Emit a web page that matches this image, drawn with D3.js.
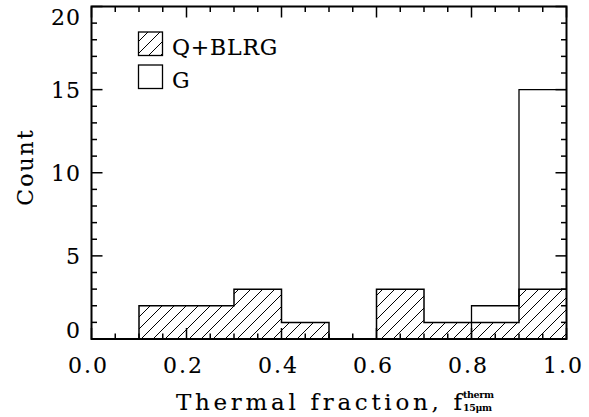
<!DOCTYPE html>
<html>
<head>
<meta charset="utf-8">
<script src="https://cdn.jsdelivr.net/npm/d3@7"></script>
<style>
  html, body { margin: 0; padding: 0; background: #fff; }
  svg { display: block; }
  text { font-family: "DejaVu Serif", "Liberation Serif", serif; fill: #000; }
</style>
</head>
<body>
<svg id="chart" width="589" height="417"></svg>
<script>
// Histogram bin edges (thermal fraction) and counts per bin
const binEdges = [0.0, 0.1, 0.2, 0.3, 0.4, 0.5, 0.6, 0.7, 0.8, 0.9, 1.0];
const countsQBLRG = [0, 2, 2, 3, 1, 0, 3, 1, 1, 3];
const countsG = [0, 0, 0, 0, 0, 0, 0, 0, 2, 15];

const xTickValues = [0.0, 0.2, 0.4, 0.6, 0.8, 1.0];
const yTickValues = [0, 5, 10, 15, 20];
const legendLabels = ["Q+BLRG", "G"];

const W = 589, H = 417;
const plot = { left: 91.5, right: 566.5, top: 6.5, bottom: 339 };

const svg = d3.select("#chart");
const x = d3.scaleLinear().domain([0, 1]).range([plot.left, plot.right]);
const y = d3.scaleLinear().domain([0, 20]).range([plot.bottom, plot.top]);

// Diagonal hatch pattern
const defs = svg.append("defs");
const pat = defs.append("pattern")
  .attr("id", "hatch")
  .attr("patternUnits", "userSpaceOnUse")
  .attr("width", 12).attr("height", 12);
pat.append("path")
  .attr("d", "M-3,3 L3,-3 M0,12 L12,0 M9,15 L15,9")
  .attr("stroke", "#000").attr("stroke-width", 1);

// Step points for each histogram (last count repeated at the final edge)
function stepPoints(counts) {
  return binEdges.map((e, i) => [e, counts[Math.min(i, counts.length - 1)]]);
}

const area = d3.area()
  .x(d => x(d[0]))
  .y0(y(0))
  .y1(d => y(d[1]))
  .curve(d3.curveStepAfter);
const line = d3.line()
  .x(d => x(d[0]))
  .y(d => y(d[1]))
  .curve(d3.curveStepAfter);

const qPts = stepPoints(countsQBLRG);
const gPts = stepPoints(countsG);

// Q+BLRG: hatched fill with step outline
svg.append("path").attr("d", area(qPts)).attr("fill", "url(#hatch)");
svg.append("path").attr("d", line(qPts))
  .attr("fill", "none").attr("stroke", "#000").attr("stroke-width", 1.5);

// G: step outline only
svg.append("path").attr("d", line(gPts))
  .attr("fill", "none").attr("stroke", "#000").attr("stroke-width", 1.3);

// Frame
svg.append("rect")
  .attr("x", plot.left).attr("y", plot.top)
  .attr("width", plot.right - plot.left).attr("height", plot.bottom - plot.top)
  .attr("fill", "none").attr("stroke", "#000").attr("stroke-width", 2);

// Ticks on all four sides
const tickG = svg.append("g").attr("stroke", "#000").attr("stroke-width", 1.5);
const xMinor = d3.range(0, 1.0001, 0.05);
xMinor.forEach(v => {
  const major = xTickValues.some(t => Math.abs(t - v) < 1e-6);
  const len = major ? 11 : 5.5;
  tickG.append("line").attr("x1", x(v)).attr("x2", x(v))
    .attr("y1", plot.bottom).attr("y2", plot.bottom - len);
  tickG.append("line").attr("x1", x(v)).attr("x2", x(v))
    .attr("y1", plot.top).attr("y2", plot.top + len);
});
d3.range(0, 21, 1).forEach(v => {
  const major = yTickValues.includes(v);
  const len = major ? 11 : 5.5;
  tickG.append("line").attr("y1", y(v)).attr("y2", y(v))
    .attr("x1", plot.left).attr("x2", plot.left + len);
  tickG.append("line").attr("y1", y(v)).attr("y2", y(v))
    .attr("x1", plot.right).attr("x2", plot.right - len);
});

// Tick labels
const labelStyle = sel => sel
  .attr("font-size", 22)
  .attr("stroke", "#000").attr("stroke-width", 0.1);

svg.append("g").selectAll("text").data(xTickValues).join("text")
  .attr("x", d => x(d) - 3)
  .attr("y", 373)
  .attr("text-anchor", "middle")
  .attr("letter-spacing", 2)
  .call(labelStyle)
  .text(d => d3.format(".1f")(d));

svg.append("g").selectAll("text").data(yTickValues).join("text")
  .attr("x", 81)
  .attr("y", d => Math.min(Math.max(y(d) + 8, 25), 338))
  .attr("text-anchor", "end")
  .attr("letter-spacing", 1)
  .call(labelStyle)
  .text(d => d);

// Axis titles
svg.append("text")
  .attr("transform", "translate(33,167) rotate(-90)")
  .attr("text-anchor", "middle")
  .attr("letter-spacing", 2)
  .call(labelStyle)
  .text("Count");

svg.append("text")
  .attr("x", 176).attr("y", 410)
  .call(labelStyle)
  .attr("font-size", 23)
  .attr("textLength", 286).attr("lengthAdjust", "spacing")
  .text("Thermal fraction, f");
svg.append("text")
  .attr("x", 463).attr("y", 398)
  .attr("font-family", "DejaVu Sans")
  .attr("font-weight", "bold")
  .attr("font-size", 9.5)
  .attr("textLength", 31).attr("lengthAdjust", "spacing")
  .text("therm");
svg.append("text")
  .attr("x", 463).attr("y", 411)
  .attr("font-family", "DejaVu Sans")
  .attr("font-weight", "bold")
  .attr("font-size", 9.5)
  .attr("textLength", 29).attr("lengthAdjust", "spacing")
  .text("15μm");

// Legend
const legend = svg.append("g");
const legendRows = [
  { label: legendLabels[0], fill: "url(#hatch)", y: 32 },
  { label: legendLabels[1], fill: "#fff", y: 65 }
];
legendRows.forEach(r => {
  legend.append("rect")
    .attr("x", 138.5).attr("y", r.y)
    .attr("width", 24).attr("height", 23.5)
    .attr("fill", r.fill)
    .attr("stroke", "#000").attr("stroke-width", 1.3);
  legend.append("text")
    .attr("x", 172).attr("y", r.y + 23)
    .attr("letter-spacing", 0.8)
    .call(labelStyle)
    .text(r.label);
});
</script>
</body>
</html>
